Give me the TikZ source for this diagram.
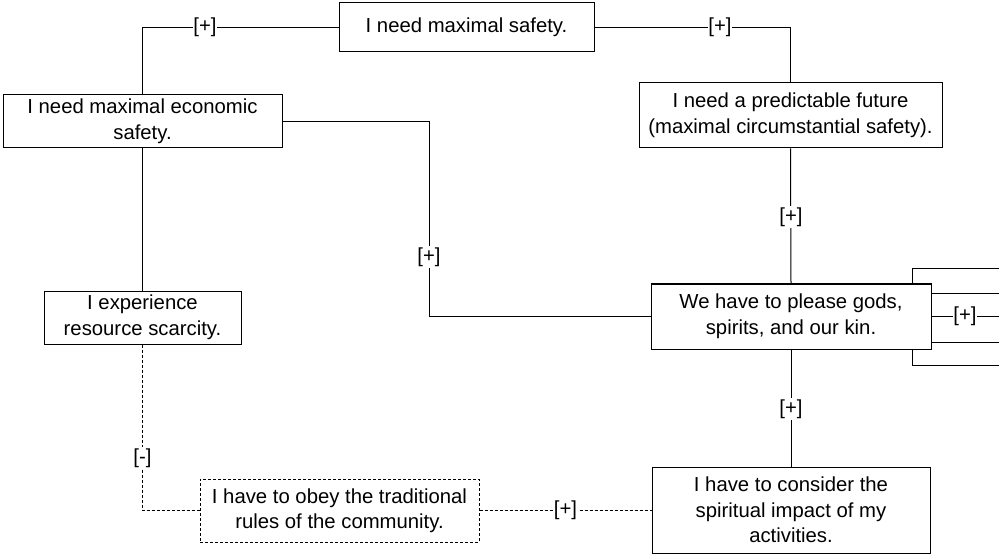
\documentclass[tikz,border=0pt]{standalone}
\usepackage{fontspec}
\setmainfont{Liberation Sans}
\begin{document}
\begin{tikzpicture}[x=1pt,y=-1pt,
  every node/.style={font=\fontsize{20.3}{25.5}\selectfont},
  claim/.style={draw=black, line width=1pt, fill=white, align=center, inner sep=0pt},
  doubtful/.style={claim, dash pattern=on 3pt off 2pt},
  link/.style={draw=black, line width=1pt},
  weak/.style={link, dash pattern=on 3pt off 2pt},
  sign/.style={fill=white, inner xsep=0.5pt, inner ysep=1.5pt}]
\useasboundingbox (0,0) rectangle (999,556);

% statements
\node[claim, minimum width=255pt, minimum height=49pt] (safety) at (466.5,27.5)
  {I need maximal safety.};
\node[claim, minimum width=279pt, minimum height=53pt] (econ) at (142.5,121.5)
  {I need maximal economic\\safety.};
\node[claim, minimum width=303pt, minimum height=65pt] (future) at (790.5,115.5)
  {I need a predictable future\\(maximal circumstantial safety).};
\node[claim, minimum width=280pt, minimum height=65pt] (please) at (791,316.5)
  {We have to please gods,\\spirits, and our kin.};
\node[claim, minimum width=197pt, minimum height=53pt] (scarcity) at (142.5,317.5)
  {I experience\\resource scarcity.};
\node[doubtful, minimum width=279pt, minimum height=63pt] (obey) at (339.5,510.5)
  {I have to obey the traditional\\rules of the community.};
\node[claim, minimum width=278pt, minimum height=86pt] (consider) at (791,510)
  {I have to consider the\\spiritual impact of my\\activities.};

% helper points for the bends and the links leaving the sheet
\coordinate (kneeE) at (429,0);
\coordinate (tapX) at (912,0);
\coordinate (outA) at (999,269);
\coordinate (outB) at (999,293);
\coordinate (outC) at (999,316.5);
\coordinate (outD) at (999,342);
\coordinate (outE) at (999,365);

% connectors
\draw[link] (safety.west) -| (econ.north);
\draw[link] (safety.east) -| (future.north);
\draw[link] (econ.east) -| (kneeE |- please.west) -- (please.west);
\draw[link] (future.south) -- (please.north);
\draw[link] (econ.south) -- (scarcity.north);
\draw[link] (please.south) -- (consider.north);
\draw[weak] (scarcity.south) |- (obey.west);
\draw[weak] (obey.east) -- (obey.east -| consider.west);
\draw[link] (tapX |- please.north) |- (outA);
\draw[link] (please.east |- outB) -- (outB);
\draw[link] (please.east) -- (outC);
\draw[link] (please.east |- outD) -- (outD);
\draw[link] (tapX |- please.south) |- (outE);

% signs on the connectors
\node[sign] (s1) at (205,27.5) {[+]};
\node[sign] (s2) at (720,27.5) {[+]};
\node[sign] (s3) at (429,257) {[+]};
\node[sign] (s4) at (791,217) {[+]};
\node[sign] (s5) at (791,409) {[+]};
\node[sign] (s6) at (142.5,458) {[-]};
\node[sign] (s7) at (565.5,510.5) {[+]};
\node[sign] (s8) at (965,316.5) {[+]};
\end{tikzpicture}
\end{document}
